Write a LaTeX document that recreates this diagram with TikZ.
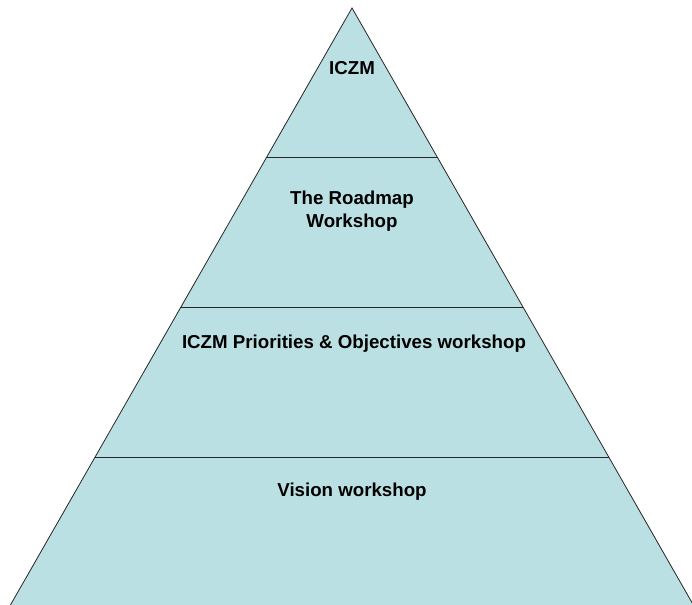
\documentclass[tikz,border=0pt]{standalone}
\usepackage{fontspec}
\setmainfont{Liberation Sans}
\usetikzlibrary{calc}
\definecolor{tierfill}{RGB}{187,224,227}
\tikzset{%
  tier line/.style={line width=1.4pt,black!85},
  side line/.style={line width=0.8pt,black!85},
  tier label/.style={font=\bfseries\fontsize{18.7}{22.5}\selectfont,align=center,inner sep=0pt}%
}
\begin{document}
\begin{tikzpicture}[x=1pt,y=-1pt]

%definitions
\def\W{692} % picture width
\def\H{604} % picture height
\useasboundingbox (0,0) rectangle (\W,\H);
\coordinate (apex) at (352,8);
\coordinate (bl) at (9.3,607);
\coordinate (br) at (694.5,607);
\fill[tierfill] (apex) -- (bl) -- (br) -- cycle;
\draw[side line] (bl) -- (apex) -- (br);
% tier borders
\foreach \t/\n in {0.25/a,0.5/b,0.75/c}{
  \coordinate (l\n) at ($(apex)!\t!(bl)$);
  \coordinate (r\n) at ($(apex)!\t!(br)$);
  \draw[tier line] (l\n) -- (r\n);
}
%labels
\node[tier label] (iczm) at (352,68) {ICZM};
\node[tier label] (roadmap) at (352,211) {The Roadmap\\Workshop};
\node[tier label] (priorities) at (354,344) {ICZM Priorities \& Objectives workshop};
\node[tier label] (vision) at (352,492) {Vision workshop};

\end{tikzpicture}
\end{document}
